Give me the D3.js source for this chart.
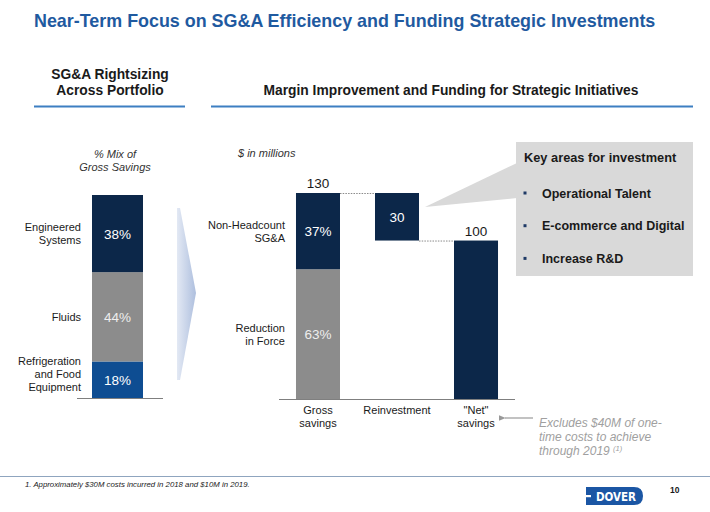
<!DOCTYPE html>
<html><head><meta charset="utf-8">
<script src="https://cdn.jsdelivr.net/npm/d3@7"></script>
<style>html,body{margin:0;padding:0;background:#fff}svg{display:block;font-family:"Liberation Sans",Arial,sans-serif}</style>
</head><body>
<svg id="c" width="710" height="512"></svg>
<script>
// ---- data ----
const mixCategories = ["Refrigeration and Food Equipment", "Fluids", "Engineered Systems"];
const mixValues = [18, 44, 38];
const wfCategories = ["Gross savings", "Reinvestment", "\"Net\" savings"];
const wfValues = [130, -30, 100];
const grossSplitLabels = ["Reduction in Force", "Non-Headcount SG&A"];
const grossSplitPct = [63, 37];
const investmentAreas = ["Operational Talent", "E-commerce and Digital", "Increase R&D"];

const svg = d3.select("#c");
const navy = "#0c2749", gray = "#8c8c8c", blue = "#0e4d92", txt = "#1a1a1a";

// ---- title & headers ----
svg.append("text").attr("x", 34).attr("y", 27).attr("font-size", 17.9).attr("font-weight", "bold")
  .attr("fill", "#1f5aa0").text("Near-Term Focus on SG&A Efficiency and Funding Strategic Investments");
const hdr = svg.append("g").attr("font-size", 13.8).attr("font-weight", "bold").attr("fill", txt).attr("text-anchor", "middle");
hdr.append("text").attr("x", 110).attr("y", 79).text("SG&A Rightsizing");
hdr.append("text").attr("x", 110).attr("y", 95).text("Across Portfolio");
hdr.append("text").attr("x", 451).attr("y", 95).text("Margin Improvement and Funding for Strategic Initiatives");
svg.append("line").attr("x1", 34).attr("x2", 185).attr("y1", 106.5).attr("y2", 106.5).attr("stroke", "#3d7fc2").attr("stroke-width", 2);
svg.append("line").attr("x1", 211).attr("x2", 693).attr("y1", 106.5).attr("y2", 106.5).attr("stroke", "#3d7fc2").attr("stroke-width", 2);

// ---- left stacked bar ----
const yL = d3.scaleLinear().domain([0, 100]).range([398, 195]);
const xL = d3.scaleBand().domain(["mix"]).range([92, 143]);
let acc = 0;
const mixStack = mixValues.map((v, i) => { const d = {cat: mixCategories[i], v, y0: acc, y1: acc + v}; acc += v; return d; });
const mixColors = [blue, gray, navy];
svg.append("g").selectAll("rect").data(mixStack).join("rect")
  .attr("x", xL("mix")).attr("width", xL.bandwidth())
  .attr("y", d => yL(d.y1)).attr("height", d => yL(d.y0) - yL(d.y1))
  .attr("fill", (d, i) => mixColors[i]);
svg.append("g").selectAll("text").data(mixStack).join("text")
  .attr("x", xL("mix") + xL.bandwidth() / 2).attr("y", d => yL((d.y0 + d.y1) / 2) + 5)
  .attr("text-anchor", "middle").attr("font-size", 13.5).attr("fill", (d, i) => i === 1 ? "#eeeeee" : "#fff")
  .text(d => d.v + "%");
svg.append("line").attr("x1", 77).attr("x2", 163).attr("y1", yL(0) + 0.5).attr("y2", yL(0) + 0.5).attr("stroke", "#7f7f7f");
const mixLines = [["Refrigeration", "and Food", "Equipment"], ["Fluids"], ["Engineered", "Systems"]];
const lblL = svg.append("g").attr("font-size", 11).attr("fill", txt).attr("text-anchor", "end");
mixStack.forEach((d, i) => {
  const lines = mixLines[i], lh = 13;
  const cy = i === 0 ? 378 - 4 : yL((d.y0 + d.y1) / 2);
  lines.forEach((l, j) => lblL.append("text").attr("x", 81).attr("y", cy + 4 + (j - (lines.length - 1) / 2) * lh).text(l));
});
const it = svg.append("g").attr("font-size", 11).attr("font-style", "italic").attr("fill", "#333");
it.append("text").attr("x", 115).attr("y", 158).attr("text-anchor", "middle").text("% Mix of");
it.append("text").attr("x", 115).attr("y", 171).attr("text-anchor", "middle").text("Gross Savings");
it.append("text").attr("x", 238).attr("y", 157).text("$ in millions");

// chevron arrow
const grad = svg.append("defs").append("linearGradient").attr("id", "chev").attr("x1", 0).attr("x2", 1);
grad.append("stop").attr("offset", 0).attr("stop-color", "#e3e9f4");
grad.append("stop").attr("offset", 1).attr("stop-color", "#aebfde");
svg.append("path").attr("d", "M177,208 L180,208 L196,293 L180,380 L177,380 Z").attr("fill", "url(#chev)");

// ---- waterfall ----
const yR = d3.scaleLinear().domain([0, 130]).range([399, 193]);
const xR = d3.scaleBand().domain(wfCategories).range([279, 515]).paddingInner(0.443).paddingOuter(0.215);
const wf = [];
let run = 0;
wfValues.forEach((v, i) => {
  if (i === 0) { wf.push({cat: wfCategories[i], lo: 0, hi: v, v}); run = v; }
  else if (i === wfValues.length - 1) { wf.push({cat: wfCategories[i], lo: 0, hi: v, v}); }
  else { wf.push({cat: wfCategories[i], lo: run + v, hi: run, v}); run += v; }
});
let gacc = 0;
const gross = grossSplitPct.map((p, i) => { const lo = gacc, hi = gacc + wfValues[0] * p / 100; gacc = hi; return {lbl: grossSplitLabels[i], p, lo, hi}; });
const gcol = [gray, navy];
svg.append("g").selectAll("rect").data(gross).join("rect")
  .attr("x", xR(wfCategories[0])).attr("width", xR.bandwidth())
  .attr("y", d => yR(d.hi)).attr("height", d => yR(d.lo) - yR(d.hi)).attr("fill", (d, i) => gcol[i]);
svg.append("g").selectAll("rect").data(wf.slice(1)).join("rect")
  .attr("x", d => xR(d.cat)).attr("width", xR.bandwidth())
  .attr("y", d => yR(d.hi)).attr("height", d => yR(d.lo) - yR(d.hi)).attr("fill", navy);
const conn = svg.append("g").attr("stroke", "#8a8a8a").attr("stroke-dasharray", "1.5,1.2");
for (let i = 0; i < wf.length - 1; i++) {
  const yv = i === 0 ? wf[0].hi : wf[i].lo;
  conn.append("line").attr("x1", xR(wf[i].cat) + xR.bandwidth()).attr("x2", xR(wf[i + 1].cat))
    .attr("y1", yR(yv) + 0.5).attr("y2", yR(yv) + 0.5);
}
svg.append("g").selectAll("text").data(gross).join("text")
  .attr("x", xR(wfCategories[0]) + xR.bandwidth() / 2).attr("y", d => yR((d.lo + d.hi) / 2) + 5)
  .attr("text-anchor", "middle").attr("font-size", 13.5).attr("fill", (d, i) => i === 0 ? "#eeeeee" : "#fff").text(d => d.p + "%");
svg.append("text").attr("x", xR(wf[1].cat) + xR.bandwidth() / 2).attr("y", yR((wf[1].lo + wf[1].hi) / 2) + 5)
  .attr("text-anchor", "middle").attr("font-size", 13.5).attr("fill", "#fff").text(Math.abs(wf[1].v));
[wf[0], wf[2]].forEach(d => svg.append("text").attr("x", xR(d.cat) + xR.bandwidth() / 2).attr("y", yR(d.hi) - 5)
  .attr("text-anchor", "middle").attr("font-size", 13.5).attr("fill", txt).text(d.v));
const ax = svg.append("g").attr("transform", `translate(0,${yR(0)})`)
  .call(d3.axisBottom(xR).tickSize(0).tickPadding(0).tickFormat(""));
ax.select(".domain").attr("d", "M279,0.5H515").attr("stroke", "#7f7f7f");
const catLines = {"Gross savings": ["Gross", "savings"], "Reinvestment": ["Reinvestment"], "\"Net\" savings": ["\"Net\"", "savings"]};
const lblR = svg.append("g").attr("font-size", 11).attr("fill", txt).attr("text-anchor", "middle");
wfCategories.forEach(c => catLines[c].forEach((l, j) => lblR.append("text")
  .attr("x", xR(c) + xR.bandwidth() / 2).attr("y", 414 + j * 13).text(l)));
const lblS = svg.append("g").attr("font-size", 11).attr("fill", txt).attr("text-anchor", "end");
const splitLines = [["Reduction", "in Force"], ["Non-Headcount", "SG&A"]];
gross.forEach((d, i) => splitLines[i].forEach((l, j) => lblS.append("text").attr("x", 285)
  .attr("y", yR((d.lo + d.hi) / 2) + 4 + (j - 0.5) * 13).text(l)));

// ---- callout ----
svg.append("path").attr("d", `M425,207 L517,163 L517,198 Z`).attr("fill", "#d9d9d9");
svg.append("rect").attr("x", 516).attr("y", 142).attr("width", 177).attr("height", 134).attr("fill", "#d9d9d9");
svg.append("text").attr("x", 524).attr("y", 162).attr("font-size", 12.8).attr("font-weight", "bold").attr("fill", txt).text("Key areas for investment");
investmentAreas.forEach((a, i) => {
  const y = 197.5 + i * 32.7;
  svg.append("rect").attr("x", 523.5).attr("y", y - 6).attr("width", 3).attr("height", 3).attr("fill", "#1f3a66");
  svg.append("text").attr("x", 542).attr("y", y).attr("font-size", 12.5).attr("font-weight", "bold").attr("fill", txt).text(a);
});

// ---- note with arrow ----
svg.append("defs").append("marker").attr("id", "ah").attr("viewBox", "0 0 10 10").attr("refX", 1).attr("refY", 5)
  .attr("markerWidth", 6).attr("markerHeight", 6).attr("orient", "auto-start-reverse")
  .append("path").attr("d", "M0,5 L10,1 L10,9 Z").attr("fill", "#999");
svg.append("line").attr("x1", 533).attr("x2", 505).attr("y1", 418).attr("y2", 418).attr("stroke", "#999").attr("stroke-width", 1.2)
  .attr("marker-end", "url(#ah)");
const note = svg.append("g").attr("font-size", 12).attr("font-style", "italic").attr("fill", "#a0a0a0");
note.append("text").attr("x", 539).attr("y", 427).text("Excludes $40M of one-");
note.append("text").attr("x", 539).attr("y", 441).text("time costs to achieve");
const t3 = note.append("text").attr("x", 539).attr("y", 455).text("through 2019 ");
t3.append("tspan").attr("font-size", 7.5).attr("dy", -4).text("(1)");

// ---- footer ----
svg.append("line").attr("x1", 0).attr("x2", 710).attr("y1", 476.5).attr("y2", 476.5).attr("stroke", "#8fa5bf").attr("stroke-width", 1.2);
svg.append("text").attr("x", 25).attr("y", 487).attr("font-size", 7.8).attr("font-style", "italic").attr("fill", txt)
  .text("1. Approximately $30M costs incurred in 2018 and $10M in 2019.");
svg.append("text").attr("x", 670).attr("y", 493).attr("font-size", 8.5).attr("font-weight", "bold").attr("fill", txt).text("10");
svg.append("path").attr("d", "M586,487 H634 Q643,487 643,496 Q643,505 634,505 H586 Z").attr("fill", "#1b56a4");
svg.append("rect").attr("x", 586).attr("y", 495).attr("width", 5).attr("height", 2.2).attr("fill", "#fff");
svg.append("text").attr("x", 616).attr("y", 500.5).attr("text-anchor", "middle").attr("font-size", 11.5).attr("font-weight", "bold")
  .attr("fill", "#fff").attr("font-family", "'Liberation Sans Narrow','DejaVu Sans Condensed',sans-serif").text("DOVER");
</script>
</body></html>
